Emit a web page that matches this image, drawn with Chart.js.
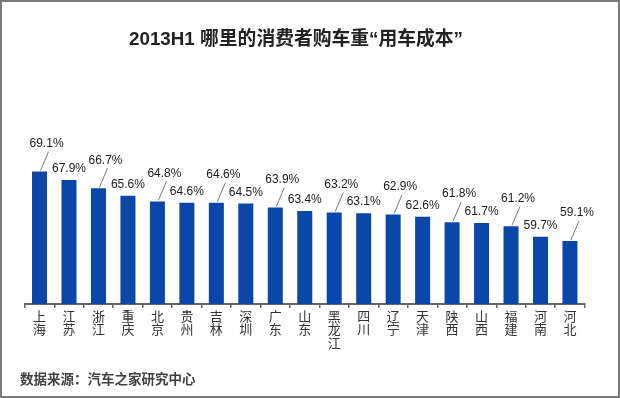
<!DOCTYPE html>
<html>
<head>
<meta charset="utf-8">
<script src="https://cdn.jsdelivr.net/npm/chart.js@4/dist/chart.umd.min.js"></script>
<style>
  html, body { margin: 0; padding: 0; background: #fff; }
  canvas { display: block; }
</style>
</head>
<body>
<canvas id="costChart" width="620" height="398"></canvas>
<script>
// 2013H1 各地消费者购车重视"用车成本"的比例
const regions = ['上海', '江苏', '浙江', '重庆', '北京', '贵州', '吉林', '深圳', '广东', '山东',
                 '黑龙江', '四川', '辽宁', '天津', '陕西', '山西', '福建', '河南', '河北'];
const shares = [69.1, 67.9, 66.7, 65.6, 64.8, 64.6, 64.6, 64.5, 63.9, 63.4,
                63.2, 63.1, 62.9, 62.6, 61.8, 61.7, 61.2, 59.7, 59.1];
const titleText = '2013H1 哪里的消费者购车重“用车成本”';
const sourceText = '数据来源：汽车之家研究中心';

const CJK = '"Noto Sans CJK SC", "Noto Sans", sans-serif';
const LATIN = '"Liberation Sans", Arial, "Noto Sans CJK SC", sans-serif';

// fond blanc + cadre gris + source en bas
const framePlugin = {
    id: 'frame',
    beforeDraw(chart) {
        const c = chart.ctx;
        c.save();
        c.fillStyle = '#fff';
        c.fillRect(0, 0, chart.width, chart.height);
        c.strokeStyle = '#7a7a7a';
        c.lineWidth = 2;
        c.strokeRect(1, 1, chart.width - 2, chart.height - 2);
        c.restore();
    },
    afterDraw(chart) {
        const c = chart.ctx;
        c.save();
        c.font = 'bold 13.5px ' + CJK;
        c.fillStyle = '#404040';
        c.textAlign = 'left';
        c.textBaseline = 'middle';
        c.fillText(sourceText, 20, 379);
        c.restore();
    }
};

// étiquettes de valeur, une sur deux relevée avec trait de rappel
const valueLabels = {
    id: 'valueLabels',
    afterDatasetsDraw(chart) {
        const c = chart.ctx;
        const meta = chart.getDatasetMeta(0);
        c.save();
        c.font = '12px ' + LATIN;
        c.fillStyle = '#1a1a1a';
        c.textAlign = 'center';
        c.textBaseline = 'middle';
        meta.data.forEach((bar, i) => {
            const txt = shares[i].toFixed(1) + '%';
            if (i % 2 === 0) {
                c.strokeStyle = '#7a7a7a';
                c.lineWidth = 1;
                c.beginPath();
                c.moveTo(bar.x + 9, bar.y - 20);
                c.lineTo(bar.x + 1, bar.y - 1);
                c.stroke();
                c.fillText(txt, bar.x + 7, bar.y - 28);
            } else {
                c.fillText(txt, bar.x, bar.y - 11);
            }
        });
        c.restore();
    }
};

new Chart(document.getElementById('costChart'), {
    type: 'bar',
    data: {
        labels: regions.map(r => Array.from(r)),
        datasets: [{
            data: shares,
            backgroundColor: '#0b47a8',
            barPercentage: 0.51,
            categoryPercentage: 1
        }]
    },
    options: {
        responsive: false,
        animation: false,
        layout: { padding: { left: 7.3, right: 35.3, top: 0, bottom: 44 } },
        plugins: {
            legend: { display: false },
            tooltip: { enabled: false },
            title: {
                display: true,
                text: titleText,
                color: '#222',
                font: { family: LATIN, size: 18.8, weight: 'bold', lineHeight: 1.2 },
                padding: { top: 28.2, bottom: 79.9 }
            }
        },
        scales: {
            x: {
                grid: {
                    display: true,
                    drawOnChartArea: false,
                    drawTicks: true,
                    tickLength: 4,
                    color: '#666',
                    lineWidth: 1.5
                },
                border: { display: true, color: '#666', width: 2 },
                ticks: {
                    color: '#333',
                    padding: 1,
                    maxRotation: 0,
                    autoSkip: false,
                    font: { family: CJK, size: 13, lineHeight: 1.05 }
                },
                afterFit(scale) { scale.height = 50; }
            },
            y: {
                min: 50,
                max: 75,
                grid: { display: false },
                border: { display: false },
                ticks: { display: false },
                afterFit(scale) { scale.width = 17.5; }
            }
        }
    },
    plugins: [framePlugin, valueLabels]
});
</script>
</body>
</html>
